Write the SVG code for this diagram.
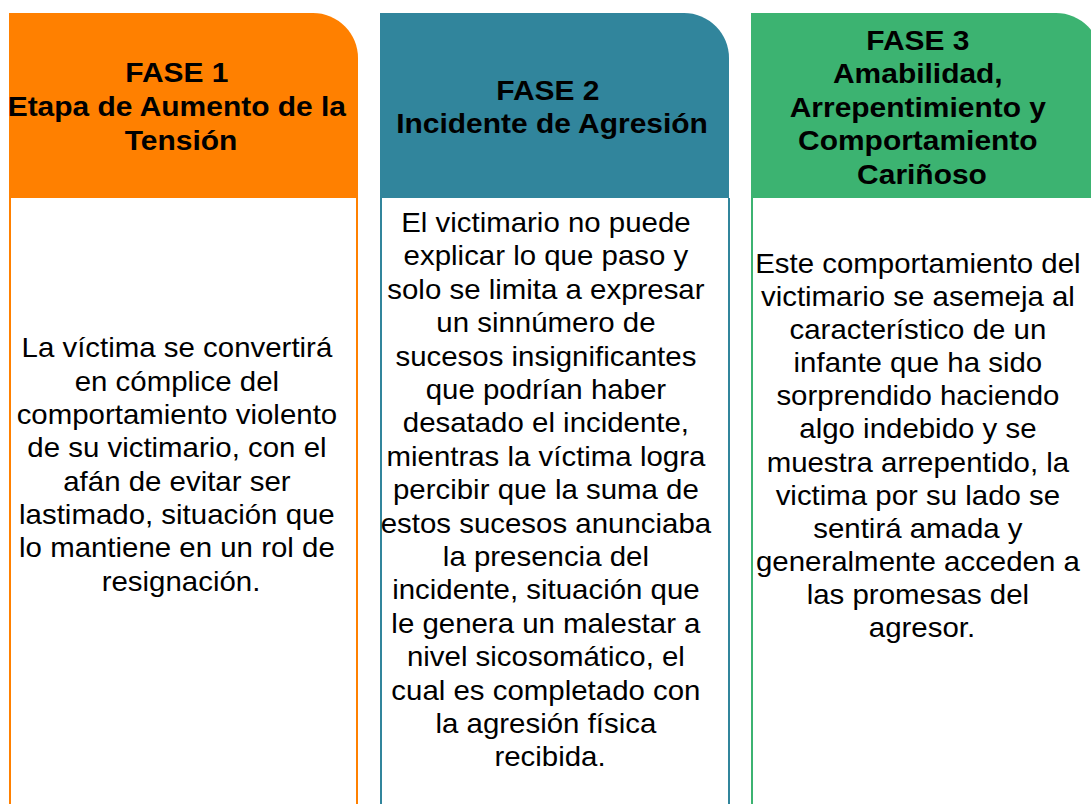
<svg xmlns="http://www.w3.org/2000/svg" width="1091" height="804" viewBox="0 0 1091 804">
<style>
.hd{font-family:"Liberation Sans",Arial,sans-serif;font-weight:bold;font-size:28px;fill:#000;text-anchor:middle}
.bd{font-family:"Liberation Sans",Arial,sans-serif;font-size:27px;fill:#000;text-anchor:middle}
.body{fill:#fff;stroke-width:2}
</style>
<rect width="1091" height="804" fill="#fff"/>
<g id="fase1">
  <path class="body" d="M10,198 V820 M357,198 V820" stroke="#FF8000"/>
  <path d="M9,13 H313 A45,45 0 0 1 358,58 V198 H9 Z" fill="#FF8000"/>
  <text class="hd" transform="translate(181,0) scale(1.07,1)">
    <tspan x="0" y="82">FASE 1</tspan>
    <tspan x="0" y="116">Etapa de Aumento de la</tspan>
    <tspan x="0" y="150">Tensión</tspan>
  </text>
  <text class="bd" transform="translate(181,0) scale(1.09,1)">
    <tspan x="0" y="357.5">La víctima se convertirá</tspan>
    <tspan x="0" y="390.8">en cómplice del</tspan>
    <tspan x="0" y="424.1">comportamiento violento</tspan>
    <tspan x="0" y="457.4">de su victimario, con el</tspan>
    <tspan x="0" y="490.7">afán de evitar ser</tspan>
    <tspan x="0" y="524">lastimado, situación que</tspan>
    <tspan x="0" y="557.3">lo mantiene en un rol de</tspan>
    <tspan x="0" y="590.6">resignación.</tspan>
  </text>
</g>
<g id="fase2">
  <path class="body" d="M381,198 V820 M729,198 V820" stroke="#31859C"/>
  <path d="M380,13 H684 A45,45 0 0 1 729,58 V198 H380 Z" fill="#31859C"/>
  <text class="hd" transform="translate(552,0) scale(1.07,1)">
    <tspan x="0" y="100">FASE 2</tspan>
    <tspan x="0" y="133.5">Incidente de Agresión</tspan>
  </text>
  <text class="bd" transform="translate(550,0) scale(1.09,1)">
    <tspan x="0" y="232">El victimario no puede</tspan>
    <tspan x="0" y="265.4">explicar lo que paso y</tspan>
    <tspan x="0" y="298.8">solo se limita a expresar</tspan>
    <tspan x="0" y="332.2">un sinnúmero de</tspan>
    <tspan x="0" y="365.6">sucesos insignificantes</tspan>
    <tspan x="0" y="399">que podrían haber</tspan>
    <tspan x="0" y="432.4">desatado el incidente,</tspan>
    <tspan x="0" y="465.8">mientras la víctima logra</tspan>
    <tspan x="0" y="499.2">percibir que la suma de</tspan>
    <tspan x="0" y="532.6">estos sucesos anunciaba</tspan>
    <tspan x="0" y="566">la presencia del</tspan>
    <tspan x="0" y="599.4">incidente, situación que</tspan>
    <tspan x="0" y="632.8">le genera un malestar a</tspan>
    <tspan x="0" y="666.2">nivel sicosomático, el</tspan>
    <tspan x="0" y="699.6">cual es completado con</tspan>
    <tspan x="0" y="733">la agresión física</tspan>
    <tspan x="0" y="766.4">recibida.</tspan>
  </text>
</g>
<g id="fase3">
  <path class="body" d="M752,198 V820 M1100,198 V820" stroke="#3CB371"/>
  <path d="M751,13 H1056 A45,45 0 0 1 1101,58 V198 H751 Z" fill="#3CB371"/>
  <text class="hd" transform="translate(922,0) scale(1.07,1)">
    <tspan x="0" y="50">FASE 3</tspan>
    <tspan x="0" y="83.5">Amabilidad,</tspan>
    <tspan x="0" y="117">Arrepentimiento y</tspan>
    <tspan x="0" y="150.5">Comportamiento</tspan>
    <tspan x="0" y="184">Cariñoso</tspan>
  </text>
  <text class="bd" transform="translate(922,0) scale(1.09,1)">
    <tspan x="0" y="273">Este comportamiento del</tspan>
    <tspan x="0" y="306.1">victimario se asemeja al</tspan>
    <tspan x="0" y="339.2">característico de un</tspan>
    <tspan x="0" y="372.3">infante que ha sido</tspan>
    <tspan x="0" y="405.4">sorprendido haciendo</tspan>
    <tspan x="0" y="438.5">algo indebido y se</tspan>
    <tspan x="0" y="471.6">muestra arrepentido, la</tspan>
    <tspan x="0" y="504.7">victima por su lado se</tspan>
    <tspan x="0" y="537.8">sentirá amada y</tspan>
    <tspan x="0" y="570.9">generalmente acceden a</tspan>
    <tspan x="0" y="604">las promesas del</tspan>
    <tspan x="0" y="637.1">agresor.</tspan>
  </text>
</g>
</svg>
